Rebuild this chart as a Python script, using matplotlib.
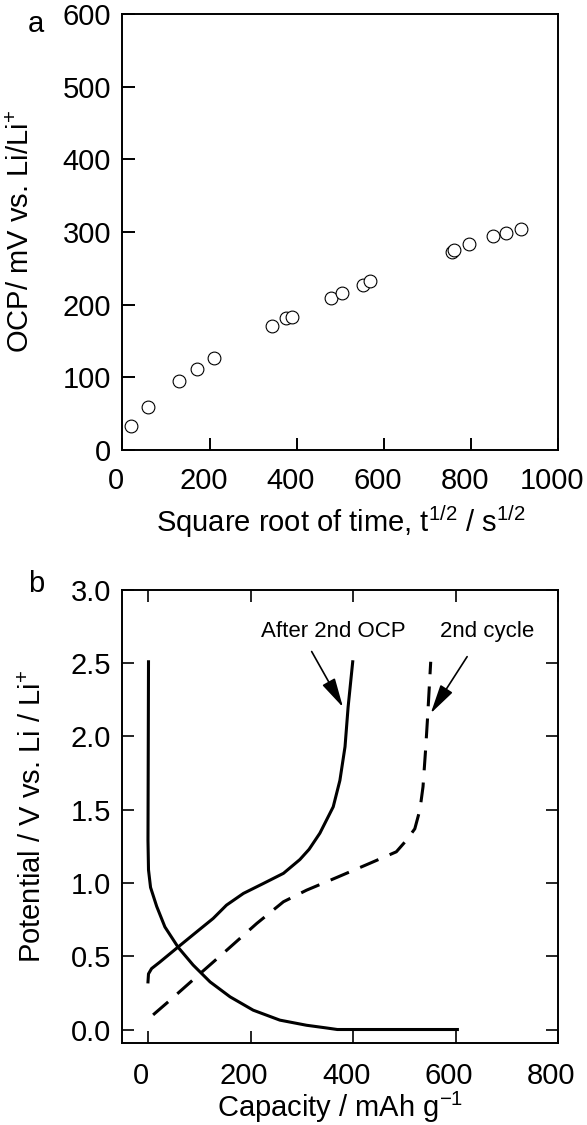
import numpy as np
import matplotlib
matplotlib.use('Agg')
import matplotlib.pyplot as plt
from matplotlib.transforms import ScaledTranslation

plt.rcParams['font.family'] = ['Liberation Sans', 'DejaVu Sans']
plt.rcParams['mathtext.fontset'] = 'custom'
plt.rcParams['mathtext.rm'] = 'Liberation Sans'
plt.rcParams['mathtext.it'] = 'Liberation Sans:italic'
plt.rcParams['mathtext.default'] = 'regular'
plt.rcParams['axes.linewidth'] = 1.4

# panel a: OCP vs square root of time
t_sqrt = [19, 59, 131, 171, 210, 343, 376, 389, 479, 504, 552, 567, 756, 760, 796, 851, 880, 913]
ocp = [33, 59, 95, 111, 126, 171, 181, 183, 209, 216, 227, 232, 273, 275, 283, 294, 299, 304]

# panel b: potential vs capacity
dis_cap = [1, 0, 1, 5, 17, 33, 59, 88, 121, 160, 205, 257, 309, 347, 369, 603]
dis_pot = [2.51, 1.29, 1.09, 0.97, 0.84, 0.70, 0.56, 0.44, 0.325, 0.223, 0.132, 0.064, 0.029, 0.011, 0.0, 0.0]

ocp_cap = [0, 1, 7, 23, 59, 95, 127, 153, 186, 225, 264, 296, 314, 335, 361, 374, 384, 390, 399]
ocp_pot = [0.325, 0.38, 0.416, 0.46, 0.564, 0.667, 0.758, 0.849, 0.929, 0.997, 1.066, 1.16, 1.23, 1.34, 1.52, 1.70, 1.93, 2.20, 2.51]

cyc_cap = [10, 43, 101, 153, 212, 264, 309, 368, 432, 484, 504, 520, 530, 536, 541, 545, 551]
cyc_pot = [0.10, 0.20, 0.38, 0.54, 0.724, 0.872, 0.951, 1.038, 1.134, 1.213, 1.293, 1.37, 1.50, 1.657, 1.908, 2.135, 2.51]

fig = plt.figure(figsize=(5.87, 11.25), dpi=100)

# ---- panel a
ax1 = fig.add_axes([0.2084, 0.6, 0.743, 0.38756])
ax1.plot(t_sqrt, ocp, 'o', ms=9.2, mfc='white', mec='black', mew=0.8)
ax1.set_xlim(0, 1000)
ax1.set_ylim(0, 600)
ax1.set_xticks([0, 200, 400, 600, 800, 1000])
ax1.set_yticks([0, 100, 200, 300, 400, 500, 600])
ax1.tick_params(direction='in', length=9, width=1.4, labelsize=21)
ax1.tick_params(axis='x', pad=12)
ax1.tick_params(axis='y', pad=8)
for lab in ax1.get_xticklabels():
    lab.set_transform(lab.get_transform() + ScaledTranslation(-6 / 100, 0, fig.dpi_scale_trans))
ax1.set_xlabel('Square root of time, t$^{1/2}$ / s$^{1/2}$', fontsize=21)
ax1.set_ylabel('OCP/ mV vs. Li/Li$^{+}$', fontsize=21)
ax1.xaxis.set_label_coords(0.5, -0.122)
ax1.yaxis.set_label_coords(-0.2, 0.5)

# ---- panel b
ax2 = fig.add_axes([0.2084, 0.07316, 0.743, 0.4024])
ax2.plot(dis_cap, dis_pot, '-', color='black', lw=2.2)
ax2.plot(ocp_cap, ocp_pot, '-', color='black', lw=2.2)
ax2.plot(cyc_cap, cyc_pot, '--', color='black', lw=2.2, dashes=(6.5, 4))
ax2.set_xlim(-50, 800)
ax2.set_ylim(-0.09, 3.0)
ax2.set_xticks([0, 200, 400, 600, 800])
ax2.set_yticks([0.0, 0.5, 1.0, 1.5, 2.0, 2.5, 3.0])
ax2.set_yticklabels(['0.0', '0.5', '1.0', '1.5', '2.0', '2.5', '3.0'])
ax2.tick_params(direction='in', length=8.5, width=1.2, labelsize=21,
                top=True, right=True)
ax2.tick_params(axis='x', pad=14)
ax2.tick_params(axis='y', pad=8)
for lab in ax2.get_xticklabels():
    lab.set_transform(lab.get_transform() + ScaledTranslation(-7 / 100, 0, fig.dpi_scale_trans))
ax2.set_xlabel('Capacity / mAh g$^{-1}$', fontsize=21)
ax2.set_ylabel('Potential / V vs. Li / Li$^{+}$', fontsize=21)
ax2.xaxis.set_label_coords(0.5, -0.105)
ax2.yaxis.set_label_coords(-0.172, 0.5)

ax2.text(362, 2.714, 'After 2nd OCP', fontsize=16, ha='center', va='center')
ax2.text(660, 2.714, '2nd cycle', fontsize=16, ha='center', va='center')
arrow = dict(arrowstyle='-|>,head_length=0.9,head_width=0.22', color='black',
             lw=1.2, mutation_scale=20, shrinkA=0, shrinkB=0)
ax2.annotate('', xy=(380, 2.20), xytext=(319, 2.58), arrowprops=arrow)
ax2.annotate('', xy=(551, 2.158), xytext=(622, 2.545), arrowprops=arrow)

fig.text(36 / 587, 1 - 24.5 / 1125, 'a', fontsize=21, ha='center', va='center')
fig.text(36 / 587, 1 - 584 / 1125, 'b', fontsize=21, ha='center', va='center')

fig.savefig('out.png', dpi=100)
